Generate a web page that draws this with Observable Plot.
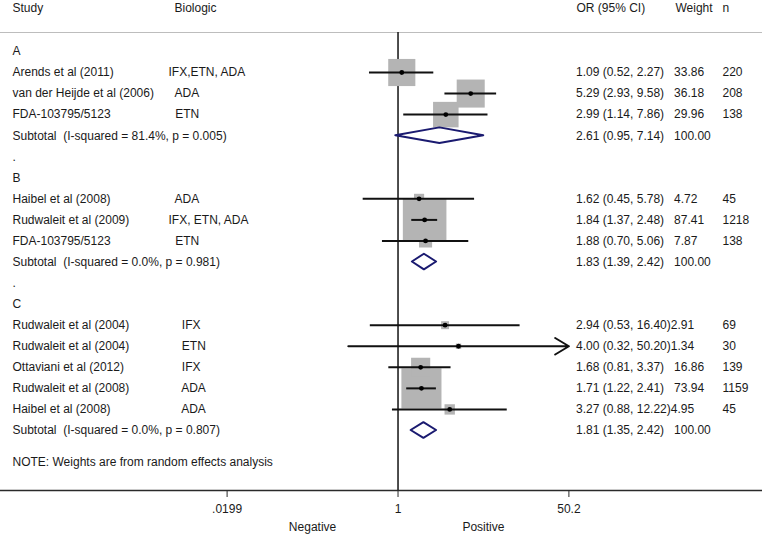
<!DOCTYPE html>
<html>
<head>
<meta charset="utf-8">
<script src="https://cdn.jsdelivr.net/npm/d3@7"></script>
<script src="https://cdn.jsdelivr.net/npm/@observablehq/plot@0.6"></script>
<style>
  body { margin: 0; background: #fff; }
  svg text { white-space: pre; }
</style>
</head>
<body>
<div id="chart"></div>
<script>
// ---------------- data ----------------
const groups = ["A", "B", "C"];
const studies = ["Arends et al (2011)", "van der Heijde et al (2006)", "FDA-103795/5123",
  "Haibel et al (2008)", "Rudwaleit et al (2009)", "FDA-103795/5123",
  "Rudwaleit et al (2004)", "Rudwaleit et al (2004)", "Ottaviani et al (2012)", "Rudwaleit et al (2008)", "Haibel et al (2008)"];
const studyGroup = ["A", "A", "A", "B", "B", "B", "C", "C", "C", "C", "C"];
const biologics = ["IFX,ETN, ADA", "  ADA", "  ETN",
  "  ADA", "IFX, ETN, ADA", "  ETN",
  "    IFX", "    ETN", "    IFX", "    ADA", "    ADA"];
const oddsRatio = [1.09, 5.29, 2.99, 1.62, 1.84, 1.88, 2.94, 4.00, 1.68, 1.71, 3.27];
const ciLow     = [0.52, 2.93, 1.14, 0.45, 1.37, 0.70, 0.53, 0.32, 0.81, 1.22, 0.88];
const ciHigh    = [2.27, 9.58, 7.86, 5.78, 2.48, 5.06, 16.40, 50.20, 3.37, 2.41, 12.22];
const weights   = [33.86, 36.18, 29.96, 4.72, 87.41, 7.87, 2.91, 1.34, 16.86, 73.94, 4.95];
const sampleN   = [220, 208, 138, 45, 1218, 138, 69, 30, 139, 1159, 45];
const subOR     = [2.61, 1.83, 1.81];
const subLow    = [0.95, 1.39, 1.35];
const subHigh   = [7.14, 2.42, 2.42];
const subWeight = [100, 100, 100];
const iSquared  = ["81.4%", "0.0%", "0.0%"];
const pValues   = ["0.005", "0.981", "0.807"];
const tickValues = [0.0199, 1, 50.2];
const tickLabels = [".0199", "1", "50.2"];
const headers = ["Study", "Biologic", "OR (95% CI)", "Weight", "n"];
const sideLabels = ["Negative", "Positive"];
const note = "NOTE: Weights are from random effects analysis";

// ---------------- style ----------------
const headerX = [12, 174, 576, 675, 722];
const colX = [12, 168, 575.5, 722];
const boxColor = "#b4b4b4";
const diamondColor = "#1a1a70";
const textColor = "#1a1a1a";
const diamondHalf = 0.37;

// ---------------- build rows ----------------
const fmt = v => v.toFixed(2);
const orText = (o, l, h) => `${fmt(o)} (${fmt(l)}, ${fmt(h)})`;
const orWeight = (s, w) => s + (s.length < 18 ? "   " : "") + fmt(w);

const textRows = [];
const studyRows = [];
const subRows = [];
let r = 0;
groups.forEach((g, gi) => {
  if (gi > 0) { textRows.push({row: r, col: 0, text: "."}); r++; }
  textRows.push({row: r, col: 0, text: g}); r++;
  studies.forEach((s, i) => {
    if (studyGroup[i] !== g) return;
    studyRows.push({row: r, or: oddsRatio[i], lo: ciLow[i], hi: ciHigh[i], w: weights[i]});
    textRows.push({row: r, col: 0, text: s});
    textRows.push({row: r, col: 1, text: biologics[i]});
    textRows.push({row: r, col: 2, text: orWeight(orText(oddsRatio[i], ciLow[i], ciHigh[i]), weights[i])});
    textRows.push({row: r, col: 3, text: String(sampleN[i])});
    r++;
  });
  subRows.push({row: r, or: subOR[gi], lo: subLow[gi], hi: subHigh[gi]});
  textRows.push({row: r, col: 0, text: `Subtotal  (I-squared = ${iSquared[gi]}, p = ${pValues[gi]})`});
  textRows.push({row: r, col: 2, text: orWeight(orText(subOR[gi], subLow[gi], subHigh[gi]), subWeight[gi])});
  r++;
});
const noteRow = r + 0.5;
textRows.push({row: noteRow, col: 0, text: note});

const diamondPts = subRows.flatMap(d => [
  {row: d.row, y: d.row - diamondHalf, x1: d.or, x2: d.or},
  {row: d.row, y: d.row, x1: d.lo, x2: d.hi},
  {row: d.row, y: d.row + diamondHalf, x1: d.or, x2: d.or}
]);

const xMin = tickValues[0], xMax = tickValues[tickValues.length - 1];
const yDomain = [-0.9, 20.85];
const ticks = tickValues.map((v, i) => ({v, label: tickLabels[i]}));

const plot = Plot.plot({
  width: 762,
  height: 540,
  marginTop: 32,
  marginBottom: 50,
  marginLeft: 0,
  marginRight: 0,
  style: {fontFamily: "'Liberation Sans', Arial, sans-serif", fontSize: "12px", color: textColor, background: "#fff", overflow: "visible"},
  x: {type: "log", domain: [xMin, xMax], range: [226.6, 568.4], axis: null},
  y: {domain: yDomain, range: [32, 490], axis: null},
  r: {type: "sqrt", domain: [0, 100], range: [0, 26.3]},
  marks: [
    Plot.ruleY([yDomain[0]], {stroke: "#bdbdbd", strokeWidth: 1}),
    Plot.ruleY([yDomain[1]], {stroke: "#2a2a2a", strokeWidth: 1.3}),
    Plot.ruleX([1], {stroke: "#222", strokeWidth: 1.6}),
    Plot.dot(studyRows, {x: "or", y: "row", r: "w", symbol: "square", fill: boxColor, stroke: null}),
    Plot.ruleY(studyRows.filter(d => d.hi < xMax), {y: "row", x1: "lo", x2: "hi", stroke: "#111", strokeWidth: 2}),
    Plot.arrow(studyRows.filter(d => d.hi >= xMax), {x1: "lo", x2: "hi", y1: "row", y2: "row", stroke: "#111", strokeWidth: 2, headLength: 12, headAngle: 62}),
    Plot.dot(studyRows, {x: "or", y: "row", r: 2.4, fill: "#000", stroke: null}),
    Plot.areaX(diamondPts, {y: "y", x1: "x1", x2: "x2", z: "row", fill: "white", stroke: diamondColor, strokeWidth: 2, curve: "linear"}),
    ...colX.map((cx, ci) => Plot.text(textRows.filter(d => d.col === ci), {
      y: "row", text: "text", frameAnchor: "left", dx: cx, textAnchor: "start", fill: textColor, fontSize: 12
    })),
    ...headers.map((h, i) => Plot.text([h], {
      text: d => d, frameAnchor: "top-left", dx: headerX[i], dy: -24, textAnchor: "start", lineAnchor: "middle", fill: textColor, fontSize: 12
    })),
    Plot.axisX({ticks: tickValues, tickFormat: () => "", tickSize: 7, anchor: "bottom", stroke: "#2a2a2a", label: null}),
    Plot.text(ticks, {x: "v", text: "label", frameAnchor: "bottom", dy: 22, fill: textColor, fontSize: 12}),
    Plot.text(sideLabels, {x: (d, i) => i === 0 ? Math.sqrt(xMin) : Math.sqrt(xMax), text: d => d,
      frameAnchor: "bottom", dy: 40, fill: textColor, fontSize: 12})
  ]
});
document.getElementById("chart").appendChild(plot);
</script>
</body>
</html>
